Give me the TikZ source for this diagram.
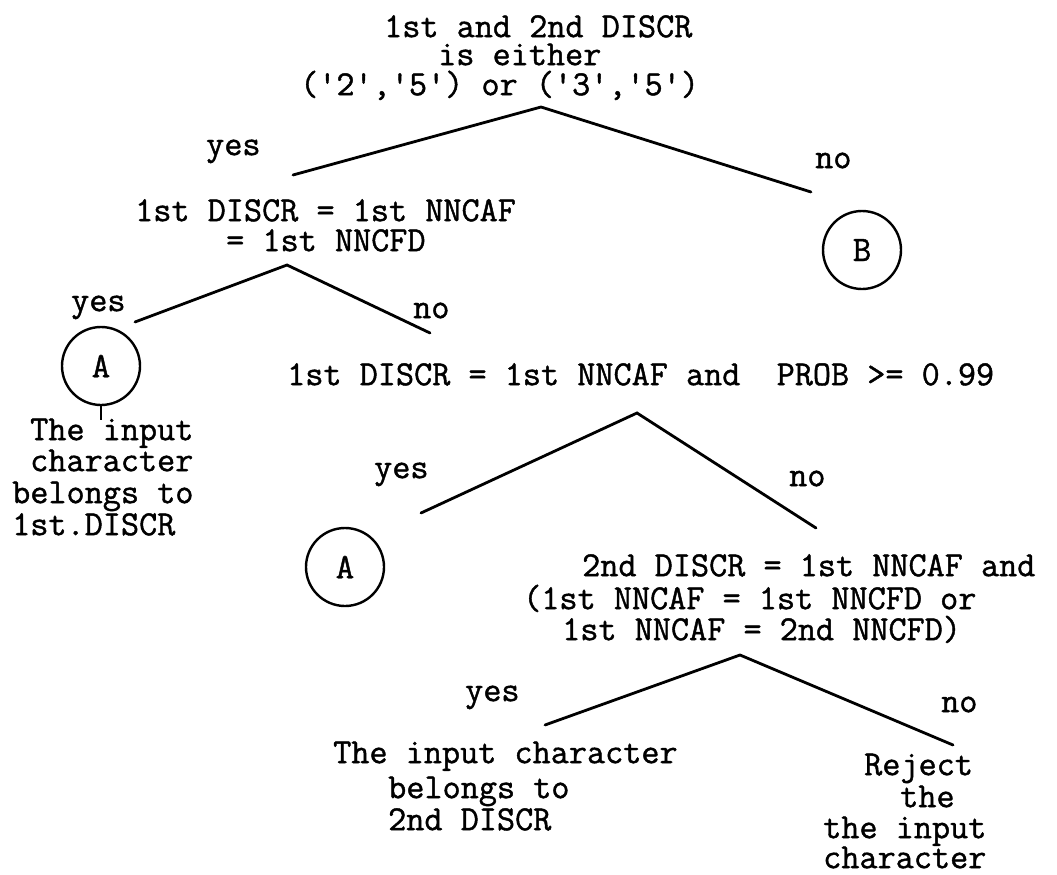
\documentclass[tikz,border=0pt]{standalone}
\usepackage{fontspec}
\setmonofont{Latin Modern Mono}[FakeBold=1.2]
\begin{document}
\begin{tikzpicture}[x=1pt,y=-1pt,
  txt/.style={anchor=mid west,inner sep=0pt,text height=0.6em,text depth=0.12em,font=\ttfamily\fontsize{35.2pt}{36pt}\selectfont},
  conn/.style={line width=2.8pt,line cap=round},
  ref/.style={draw,circle,line width=2.4pt,minimum size=78pt,inner sep=0pt,font=\ttfamily\fontsize{36pt}{36pt}\selectfont}]
\useasboundingbox (0,0) rectangle (1057,875);
% top decision
\node[txt] (t1) at (384,35) {1st and 2nd DISCR};
\node[txt] (t2) at (438,63) {is either};
\node[txt] (t3) at (300,93) {('2','5') or ('3','5')};
\coordinate (p1) at (541,107);
\coordinate (p1y) at (293,175);
\coordinate (p1n) at (811,192);
\draw[conn] (p1y) -- (p1) -- (p1n);
\node[txt] (y1) at (206,153) {yes};
\node[txt] (n1) at (815,166) {no};
\node[ref] (B) at (862,250) {B};
% second decision
\node[txt] (t6) at (135,219) {1st DISCR = 1st NNCAF};
\node[txt] (t7) at (226,249) {= 1st NNCFD};
\coordinate (p2) at (287,265);
\coordinate (p2y) at (135,322);
\coordinate (p2n) at (430,333);
\draw[conn] (p2y) -- (p2) -- (p2n);
\node[txt] (y2) at (71,309) {yes};
\node[txt] (n2) at (413,316) {no};
\node[ref] (A1) at (101,366) {A};
\coordinate (a1t) at (101,420);
\draw[line width=2.2pt] (A1.south) -- (a1t);
\node[txt] (r1a) at (30,438) {The input};
\node[txt] (r1b) at (30,469) {character};
\node[txt] (r1c) at (12,501) {belongs to};
\node[txt] (r1d) at (12,533) {1st.DISCR};
% third decision
\node[txt] (t14) at (287,383) {1st DISCR = 1st NNCAF and\ \ PROB >= 0.99};
\coordinate (p3) at (637,413);
\coordinate (p3y) at (421,513);
\coordinate (p3n) at (816,528);
\draw[conn] (p3y) -- (p3) -- (p3n);
\node[txt] (y3) at (374,476) {yes};
\node[txt] (n3) at (789,484) {no};
\node[ref] (A2) at (345,567) {A};
% fourth decision
\node[txt] (t17) at (582,574) {2nd DISCR = 1st NNCAF and};
\node[txt] (t18) at (523,607) {(1st NNCAF = 1st NNCFD or};
\node[txt] (t19) at (562,638) {1st NNCAF = 2nd NNCFD)};
\coordinate (p4) at (740,655);
\coordinate (p4y) at (545,725);
\coordinate (p4n) at (953,745);
\draw[conn] (p4y) -- (p4) -- (p4n);
\node[txt] (y4) at (465,699) {yes};
\node[txt] (n4) at (941,710) {no};
\node[txt] (r2a) at (333,761) {The input character};
\node[txt] (r2b) at (388,796) {belongs to};
\node[txt] (r2c) at (388,828) {2nd DISCR};
\node[txt] (r3a) at (864,773) {Reject};
\node[txt] (r3b) at (900,805) {the};
\node[txt] (r3c) at (823,836) {the input};
\node[txt] (r3d) at (823,866) {character};
\end{tikzpicture}
\end{document}
